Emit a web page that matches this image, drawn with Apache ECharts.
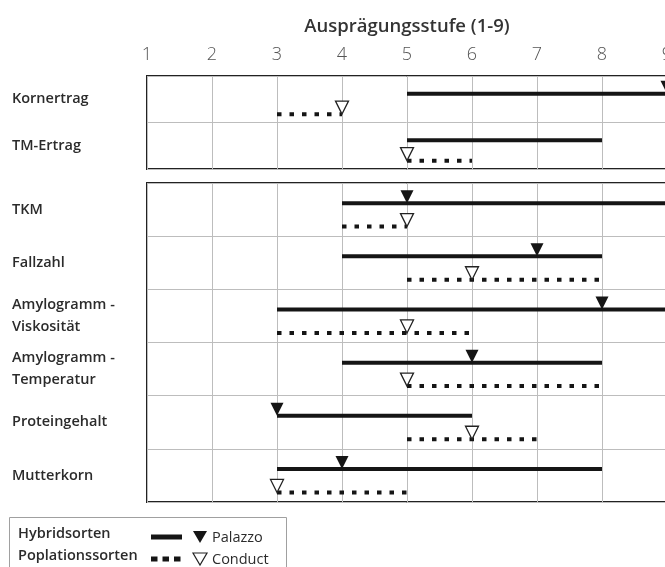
<!DOCTYPE html>
<html>
<head>
<meta charset="utf-8">
<script src="https://cdn.jsdelivr.net/npm/echarts@6/dist/echarts.min.js"></script>
<style>html,body{margin:0;padding:0;background:#fff;}#c{width:665px;height:567px;}</style>
</head>
<body>
<div id="c"></div>
<script>
// ---- data ----
var xTicks = [1, 2, 3, 4, 5, 6, 7, 8, 9];
var axisTitle = 'Ausprägungsstufe (1-9)';

var rowsTop = ['Kornertrag', 'TM-Ertrag'];
var hybStartTop = [5, 5];
var hybEndTop = [9, 8];
var palazzoTop = [9, null];
var popStartTop = [3, 5];
var popEndTop = [4, 6];
var conductTop = [4, 5];

var rowsBottom = ['TKM', 'Fallzahl', 'Amylogramm -\nViskosität', 'Amylogramm -\nTemperatur', 'Proteingehalt', 'Mutterkorn'];
var hybStartBottom = [4, 4, 3, 4, 3, 3];
var hybEndBottom = [9, 8, 9, 8, 6, 8];
var palazzoBottom = [5, 7, 8, 6, 3, 4];
var popStartBottom = [4, 5, 3, 5, 5, 3];
var popEndBottom = [5, 8, 6, 8, 7, 5];
var conductBottom = [5, 6, 5, 5, 6, 3];

var legendRows = [['Hybridsorten', 'Palazzo'], ['Poplationssorten', 'Conduct']];

// ---- chart ----
var SOLID_OFF = 0.38, DOT_OFF = 0.82;
var FONT = '"Open Sans", sans-serif';
var chart = echarts.init(document.getElementById('c'));

function segRender(off, dashed) {
  return function (params, api) {
    var s = api.coord([api.value(0), api.value(2) + off]);
    var e = api.coord([api.value(1), api.value(2) + off]);
    return {
      type: 'line',
      shape: { x1: s[0], y1: s[1], x2: e[0], y2: e[1] },
      style: { stroke: '#151515', lineWidth: 4, lineDash: dashed ? [4.5, 8] : null, lineCap: 'butt' }
    };
  };
}

function panelSeries(xi, yi, starts, ends, marks, dashed, filled) {
  var segData = starts.map(function (s, i) { return [s, ends[i], i]; });
  var off = dashed ? DOT_OFF : SOLID_OFF;
  var markData = [];
  marks.forEach(function (m, i) { if (m !== null) markData.push([m, i + off]); });
  return [
    { type: 'custom', xAxisIndex: xi, yAxisIndex: yi, renderItem: segRender(off, dashed),
      encode: { x: [0, 1], y: 2 }, data: segData, silent: true, z: 3, clip: false },
    { type: 'scatter', xAxisIndex: xi, yAxisIndex: yi, data: markData,
      symbol: 'triangle', symbolRotate: 180, symbolSize: [13, 13], symbolOffset: [0, '-50%'],
      itemStyle: filled ? { color: '#151515', opacity: 1 } : { color: '#fff', borderColor: '#222', borderWidth: 1.3, opacity: 1 },
      silent: true, z: 4, clip: false }
  ];
}

function xAx(gi, showLabels) {
  return {
    type: 'value', gridIndex: gi, min: 1, max: 9, interval: 1, position: 'top',
    name: showLabels ? axisTitle : '', nameLocation: 'middle', nameGap: 40,
    nameTextStyle: { fontFamily: FONT, fontSize: 18.5, fontWeight: 600, color: '#333' },
    axisLine: { show: false }, axisTick: { show: false },
    axisLabel: { show: showLabels, margin: 12, fontFamily: FONT, fontSize: 18, fontWeight: 300, color: '#555',
      formatter: function (v) { return xTicks.indexOf(v) >= 0 ? String(v) : ''; } },
    splitLine: { show: true, lineStyle: { color: '#bdbdbd', width: 1 } }
  };
}

function yCat(gi, rows) {
  return {
    type: 'category', gridIndex: gi, data: rows, inverse: true,
    axisLine: { show: false }, axisTick: { show: false }, splitLine: { show: false },
    axisLabel: { align: 'left', margin: 135, fontFamily: FONT, fontSize: 14.5, fontWeight: 600,
      color: '#2b2b2b', lineHeight: 22 }
  };
}
function yVal(gi, n) {
  return {
    type: 'value', gridIndex: gi, min: 0, max: n, interval: 1, inverse: true,
    axisLine: { show: false }, axisTick: { show: false }, axisLabel: { show: false },
    splitLine: { show: true, lineStyle: { color: '#bdbdbd', width: 1 } }
  };
}

var graphics = [
  { type: 'rect', shape: { x: 9.5, y: 517.5, width: 277, height: 60 },
    style: { fill: 'none', stroke: '#a0a0a0', lineWidth: 1 } }
];
legendRows.forEach(function (r, i) {
  var y = 534 + i * 22;
  graphics.push({ type: 'text', x: 18, y: y, style: { text: r[0], fontFamily: FONT, fontSize: 14.5,
    fontWeight: 600, fill: '#2b2b2b', verticalAlign: 'middle' } });
  graphics.push({ type: 'line', shape: { x1: 151, y1: y + 3, x2: 182, y2: y + 3 },
    style: { stroke: '#151515', lineWidth: 5, lineDash: i === 0 ? null : [6.5, 5] } });
  graphics.push({ type: 'polygon', shape: { points: [[193, y - 3], [207, y - 3], [200, y + 9]] },
    style: i === 0 ? { fill: '#151515' } : { fill: '#fff', stroke: '#222', lineWidth: 1.2 } });
  graphics.push({ type: 'text', x: 212, y: y + 4, style: { text: r[1], fontFamily: FONT, fontSize: 14.5,
    fontWeight: 500, fill: '#2b2b2b', verticalAlign: 'middle' } });
});

var gridBase = { left: 147, width: 520, show: true, borderColor: '#222', borderWidth: 2,
  backgroundColor: 'transparent', containLabel: false, outerBoundsMode: 'none' };
var option = {
  animation: false,
  backgroundColor: '#fff',
  grid: [
    Object.assign({ top: 76, height: 93 }, gridBase),
    Object.assign({ top: 183, height: 319 }, gridBase)
  ],
  xAxis: [xAx(0, true), xAx(1, false)],
  yAxis: [yCat(0, rowsTop), yVal(0, rowsTop.length), yCat(1, rowsBottom), yVal(1, rowsBottom.length)],
  series: [].concat(
    panelSeries(0, 1, hybStartTop, hybEndTop, palazzoTop, false, true),
    panelSeries(0, 1, popStartTop, popEndTop, conductTop, true, false),
    panelSeries(1, 3, hybStartBottom, hybEndBottom, palazzoBottom, false, true),
    panelSeries(1, 3, popStartBottom, popEndBottom, conductBottom, true, false)
  ),
  graphic: graphics
};
chart.setOption(option);
</script>
</body>
</html>
